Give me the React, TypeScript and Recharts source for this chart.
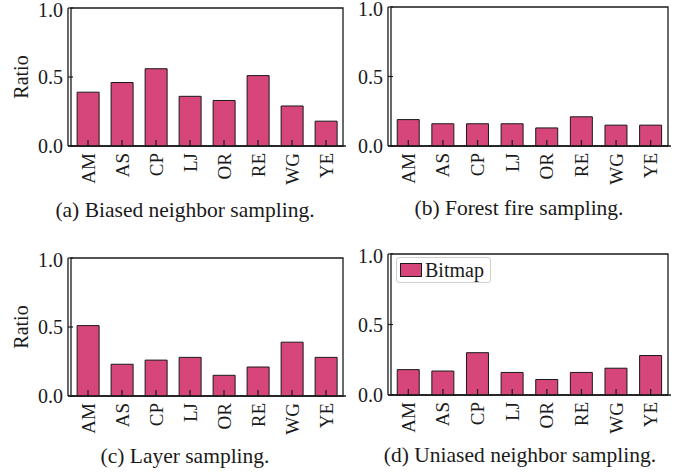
import React from 'react'
import { BarChart, Bar, XAxis, YAxis, ReferenceArea, Legend } from 'recharts'

// 数据集缩写
const datasets = ['AM', 'AS', 'CP', 'LJ', 'OR', 'RE', 'WG', 'YE']

// 四种采样方式下的比例
const biasedNeighbor = [0.39, 0.46, 0.56, 0.36, 0.33, 0.51, 0.29, 0.18]
const forestFire = [0.19, 0.16, 0.16, 0.16, 0.13, 0.21, 0.15, 0.15]
const layerSampling = [0.51, 0.23, 0.26, 0.28, 0.15, 0.21, 0.39, 0.28]
const unbiasedNeighbor = [0.18, 0.17, 0.3, 0.16, 0.11, 0.16, 0.19, 0.28]

const yTicks = [0, 0.5, 1.0]

const FONT = '"Liberation Serif", "Times New Roman", serif'
const BAR_COLOR = '#d6467a'
const INK = '#1a1a1a'

const toRows = (values: number[]) => datasets.map((name, i) => ({ name, value: values[i] }))

// 旋转的 X 轴标签
function XTick({ x, y, payload }: any) {
  return (
    <text
      x={x}
      y={y}
      transform={`rotate(-90, ${x}, ${y})`}
      textAnchor="end"
      dominantBaseline="central"
      fontSize={19}
      fontFamily={FONT}
      fill={INK}
    >
      {payload.value}
    </text>
  )
}

// 图例（只在 d 图里）
function LegendBox({ payload }: any) {
  return (
    <div
      style={{
        display: 'flex',
        alignItems: 'center',
        border: '1px solid #d0d0d0',
        borderRadius: 3,
        background: 'rgba(255,255,255,0.9)',
        padding: '1px 6px 1px 3px',
        fontFamily: FONT,
        fontSize: 20,
        color: INK,
        lineHeight: '22px'
      }}
    >
      {(payload || []).map((p: any) => (
        <span key={p.value} style={{ display: 'flex', alignItems: 'center' }}>
          <span
            style={{
              display: 'inline-block',
              width: 20,
              height: 12,
              background: BAR_COLOR,
              border: `1px solid ${INK}`,
              marginRight: 3
            }}
          />
          {p.value}
        </span>
      ))}
    </div>
  )
}

interface PanelProps {
  values: number[]
  caption: string
  plot: { x: number; y: number; w: number; h: number } // 绘图区域
  captionPos: { x: number; y: number }
  showYLabel?: boolean
  showLegend?: boolean
}

function Panel({ values, caption, plot, captionPos, showYLabel = false, showLegend = false }: PanelProps) {
  const left = plot.x - 60
  const top = plot.y - 10
  return (
    <>
      <div style={{ position: 'absolute', left, top }}>
        <BarChart
          width={plot.w + 70}
          height={plot.h + 70}
          data={toRows(values)}
          margin={{ top: 10, right: 10, left: 0, bottom: 0 }}
          barCategoryGap="18%"
        >
          <Bar
            dataKey="value"
            name="Bitmap"
            fill={BAR_COLOR}
            stroke={INK}
            strokeWidth={1}
            isAnimationActive={false}
          />
          <XAxis
            dataKey="name"
            height={60}
            padding={{ left: 3, right: 3 }}
            tickSize={-6}
            tickMargin={13}
            tickLine={{ stroke: INK, strokeWidth: 1.2 }}
            axisLine={{ stroke: INK, strokeWidth: 1.3 }}
            tick={<XTick />}
            interval={0}
          />
          <YAxis
            width={60}
            domain={[0, 1]}
            ticks={yTicks}
            tickFormatter={(v: number) => v.toFixed(1)}
            tickSize={-5}
            tickMargin={10}
            tickLine={{ stroke: INK, strokeWidth: 1.2 }}
            axisLine={{ stroke: INK, strokeWidth: 1.3 }}
            tick={{ fontSize: 20, fontFamily: FONT, fill: INK }}
            label={
              showYLabel
                ? {
                    value: 'Ratio',
                    angle: -90,
                    position: 'insideLeft',
                    offset: 13,
                    textAnchor: 'middle',
                    fontSize: 20,
                    fontFamily: FONT,
                    fill: INK
                  }
                : undefined
            }
          />
          <ReferenceArea y1={0} y2={1} fill="none" stroke={INK} strokeWidth={1.3} ifOverflow="visible" />
          {showLegend && (
            <Legend
              layout="horizontal"
              verticalAlign="middle"
              align="center"
              content={<LegendBox />}
              wrapperStyle={{ left: 68, top: 13, width: 'auto' }}
            />
          )}
        </BarChart>
      </div>
      <div
        style={{
          position: 'absolute',
          left: captionPos.x - 200,
          top: captionPos.y - 13,
          width: 400,
          textAlign: 'center',
          fontFamily: FONT,
          fontSize: 21.5,
          lineHeight: '26px',
          color: INK
        }}
      >
        {caption}
      </div>
    </>
  )
}

export default function App() {
  return (
    <div style={{ position: 'absolute', left: 0, top: 0, width: 686, height: 476, background: '#fff', overflow: 'hidden' }}>
      <Panel
        values={biasedNeighbor}
        caption="(a) Biased neighbor sampling."
        plot={{ x: 68, y: 8, w: 278, h: 138 }}
        captionPos={{ x: 185, y: 210 }}
        showYLabel
      />
      <Panel
        values={forestFire}
        caption="(b) Forest fire sampling."
        plot={{ x: 388, y: 7, w: 283, h: 139 }}
        captionPos={{ x: 519, y: 208 }}
      />
      <Panel
        values={layerSampling}
        caption="(c) Layer sampling."
        plot={{ x: 68, y: 258, w: 278, h: 138 }}
        captionPos={{ x: 185, y: 456 }}
        showYLabel
      />
      <Panel
        values={unbiasedNeighbor}
        caption="(d) Uniased neighbor sampling."
        plot={{ x: 388, y: 254, w: 283, h: 141 }}
        captionPos={{ x: 520, y: 455 }}
        showLegend
      />
    </div>
  )
}
